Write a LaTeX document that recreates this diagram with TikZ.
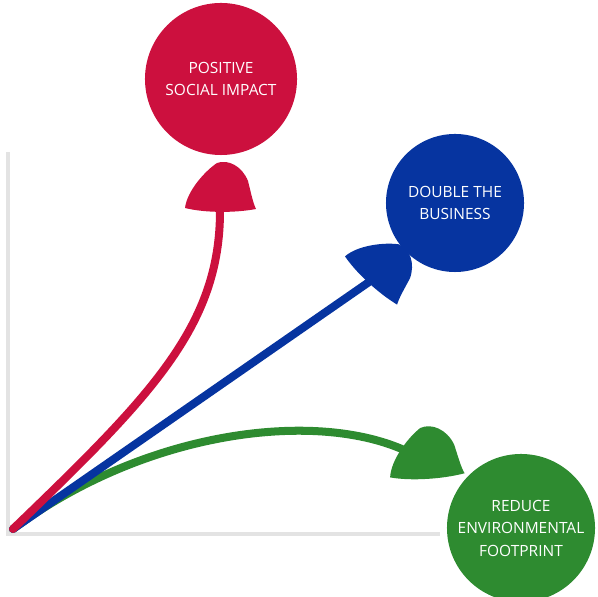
\documentclass[tikz,border=0pt]{standalone}
\usepackage{fontspec}
\setmainfont{Open Sans}
\definecolor{impactred}{RGB}{204,16,62}
\definecolor{businessblue}{RGB}{6,52,160}
\definecolor{footgreen}{RGB}{46,139,48}
\tikzset{
  goal/.style={circle,fill=#1,text=white,align=center,inner sep=0pt,
    font=\fontsize{11}{16}\selectfont},
  stem/.style={line width=5.7pt,line cap=round,draw=#1},
  fin/.pic={
    \fill (-35,3) .. controls (-33,20) and (-15,40) .. (-3,48)
      .. controls (8,52) and (22,45) .. (28,30)
      .. controls (31,18) and (33,8) .. (36,2)
      .. controls (15,-2) and (-15,-2) .. cycle;
  }
}
\begin{document}
\begin{tikzpicture}[x=0.025cm,y=0.025cm]
\useasboundingbox (0,0) rectangle (598,597);
% axes
\draw[gray!22,line width=2.2pt] (8,445) -- (8,63) -- (440,63);
% goals
\node[goal=impactred,minimum size=3.8cm] (social) at (221,518) {POSITIVE\\SOCIAL IMPACT};
\node[goal=businessblue,minimum size=3.45cm] (business) at (455,394) {DOUBLE THE\\BUSINESS};
\node[goal=footgreen,minimum size=3.7cm] (footprint) at (521,69) {REDUCE\\ENVIRONMENTAL\\FOOTPRINT};
% arrows
\coordinate (origin) at (13,68);
\coordinate (socialend) at (220,386);
\coordinate (businessend) at (369,315);
\coordinate (footprintend) at (418,140);
\draw[stem=footgreen] (origin) .. controls (150,170) and (330,190) .. (footprintend);
\draw[stem=businessblue] (origin) -- (businessend);
\draw[stem=impactred] (origin) .. controls (150,200) and (220,270) .. (socialend);
\pic[impactred] at (socialend) {fin};
\pic[businessblue,rotate=-42] at (businessend) {fin};
\pic[footgreen,rotate=4,scale=1.05] at (427,119) {fin};
\end{tikzpicture}
\end{document}
